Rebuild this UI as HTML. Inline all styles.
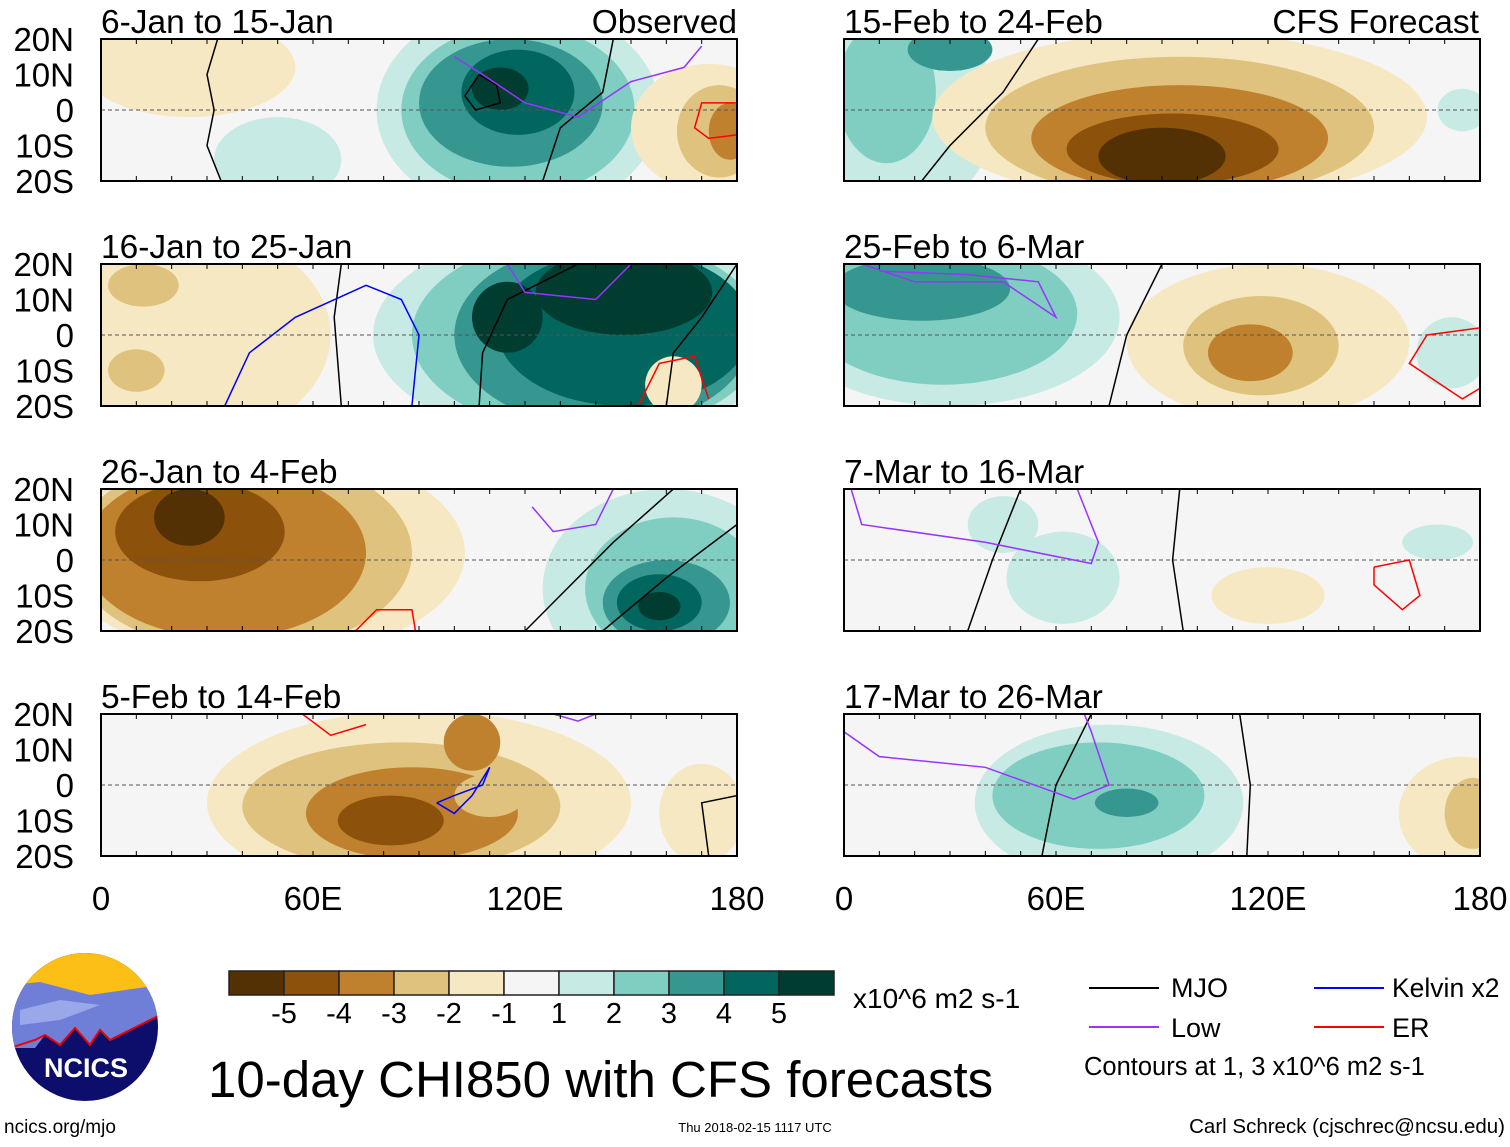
<!DOCTYPE html>
<html><head><meta charset="utf-8"><style>
html,body{margin:0;padding:0;background:#fff}
svg text{font-family:"Liberation Sans",Arial,sans-serif}
</style></head><body>
<svg id="chart" width="1510" height="1142" viewBox="0 0 1510 1142" xmlns="http://www.w3.org/2000/svg">
<g id="panels"></g>
<g id="legend"></g>
</svg>
<script>
// ---- data ----
const levelColors = ["#543005","#8c510a","#bf812d","#dfc27d","#f6e8c3","#f5f5f5","#c7eae5","#80cdc1","#35978f","#01665e","#003c30"];
const levelLabels = ["-5","-4","-3","-2","-1","1","2","3","4","5"];
const panelTitles = ["6-Jan to 15-Jan","16-Jan to 25-Jan","26-Jan to 4-Feb","5-Feb to 14-Feb","15-Feb to 24-Feb","25-Feb to 6-Mar","7-Mar to 16-Mar","17-Mar to 26-Mar"];
const latTicks = [20,10,0,-10,-20];
const latLabels = ["20N","10N","0","10S","20S"];
const lonTicks = [0,60,120,180];
const lonLabels = ["0","60E","120E","180"];
// blobs: [lon, lat, lonRadius, latRadius, level(-5..5)]
const blobs0 = [[25,12,30,14,-1],[50,-14,18,12,1],[118,0,40,30,1],[118,0,33,24,2],[116,2,26,18,3],[118,5,16,12,4],[113,6,8,6,5],[172,-5,22,18,-1],[175,-6,12,13,-2],[178,-6,6,8,-3]];
const blobs1 = [[25,0,40,30,-1],[12,14,10,6,-2],[10,-10,8,6,-2],[135,0,58,30,1],[138,0,50,28,2],[142,0,42,26,3],[148,2,36,22,4],[148,12,25,12,5],[115,5,10,10,5],[162,-14,8,8,-1]];
const blobs2 = [[45,2,58,30,-1],[40,2,48,28,-2],[35,2,40,24,-3],[28,8,24,14,-4],[25,12,10,8,-5],[160,-8,35,28,1],[162,-8,25,20,2],[160,-12,18,12,3],[158,-12,12,8,4],[158,-13,6,4,5]];
const blobs3 = [[90,-5,60,26,-1],[85,-6,45,18,-2],[88,-8,30,13,-3],[82,-10,15,7,-4],[105,12,8,8,-3],[170,-8,12,14,-1],[110,-3,10,6,-2]];
const blobs4 = [[15,0,28,30,1],[12,5,14,20,2],[30,17,12,6,3],[95,-2,70,24,-1],[95,-5,55,20,-2],[95,-8,42,15,-3],[93,-11,30,10,-4],[90,-13,18,8,-5],[175,0,7,6,1]];
const blobs5 = [[30,5,48,25,1],[28,6,38,20,2],[22,13,25,9,3],[120,-2,40,22,-1],[118,-3,22,14,-2],[115,-5,12,8,-3],[172,-5,10,10,1]];
const blobs6 = [[62,-5,16,13,1],[45,10,10,8,1],[120,-10,16,8,-1],[168,5,10,5,1]];
const blobs7 = [[75,-5,38,22,1],[72,-3,30,15,2],[80,-5,9,4,3],[175,-8,18,16,-1],[178,-8,8,10,-2]];
const allBlobs = [blobs0,blobs1,blobs2,blobs3,blobs4,blobs5,blobs6,blobs7];
// contour lines: [color, [[lon,lat],...]]
const lines0 = [["#000",[[33,20],[30,10],[32,0],[30,-10],[34,-20]]],["#000",[[145,20],[142,5],[130,-5],[125,-20]]],["#000",[[107,10],[112,7],[113,2],[106,0],[103,4],[107,10]]],["#9933ff",[[100,15],[108,10],[120,2],[135,-2],[150,8],[165,12],[170,18]]],["#f00",[[180,2],[170,2],[168,-5],[172,-8],[180,-7]]]];
const lines1 = [["#000",[[68,20],[66,5],[68,-20]]],["#00f",[[35,-20],[42,-5],[55,5],[75,14],[85,10],[90,0],[88,-20]]],["#000",[[180,20],[170,5],[162,-5],[160,-20]]],["#000",[[135,20],[115,10],[108,-5],[107,-20]]],["#9933ff",[[115,20],[120,12],[140,10],[150,20]]],["#f00",[[152,-20],[158,-8],[168,-6],[172,-18]]]];
const lines2 = [["#000",[[162,20],[145,5],[130,-10],[120,-20]]],["#000",[[180,10],[160,-5],[142,-20]]],["#9933ff",[[122,15],[128,8],[140,10],[145,20]]],["#f00",[[72,-20],[78,-14],[88,-14],[89,-20]]]];
const lines3 = [["#f00",[[57,20],[65,14],[75,17]]],["#00f",[[95,-5],[100,-3],[108,0],[110,5],[105,-3],[100,-8],[95,-5]]],["#000",[[180,-3],[170,-5],[172,-20]]],["#9933ff",[[128,20],[135,18],[140,20]]]];
const lines4 = [["#000",[[55,20],[45,5],[30,-10],[22,-20]]]];
const lines5 = [["#000",[[90,20],[80,0],[75,-20]]],["#9933ff",[[5,20],[20,15],[45,15],[60,5],[55,15],[35,17],[10,18]]],["#f00",[[180,2],[165,0],[160,-8],[175,-18],[180,-15]]]];
const lines6 = [["#000",[[50,20],[42,0],[35,-20]]],["#000",[[95,20],[93,0],[96,-20]]],["#9933ff",[[2,20],[5,10],[40,5],[70,-1],[72,5],[66,20]]],["#f00",[[150,-2],[160,0],[163,-10],[158,-14],[150,-7],[150,-2]]]];
const lines7 = [["#000",[[70,20],[60,0],[56,-20]]],["#000",[[112,20],[115,0],[114,-20]]],["#9933ff",[[0,15],[10,8],[40,5],[65,-4],[75,0],[70,15],[68,20]]]];
const allLines = [lines0,lines1,lines2,lines3,lines4,lines5,lines6,lines7];

// ---- layout ----
const NS="http://www.w3.org/2000/svg";
const panelsG=document.getElementById('panels');
const legendG=document.getElementById('legend');
const colX=[101,844], rowY=[39,264,489,714], PW=636, PH=142;
function el(tag,attrs,parent){const e=document.createElementNS(NS,tag);for(const k in attrs)e.setAttribute(k,attrs[k]);parent.appendChild(e);return e;}
function colorFor(l){return levelColors[l+5];}

for(let p=0;p<8;p++){
  const x0=colX[p<4?0:1], y0=rowY[p%4];
  const xs=lon=>x0+lon/180*PW, ys=lat=>y0+(20-lat)/40*PH;
  const g=el('g',{},panelsG);
  
  
  const cp=el('clipPath',{id:'clip'+p},g);
  el('rect',{x:x0,y:y0,width:PW,height:PH},cp);
  const inner=el('g',{'clip-path':'url(#clip'+p+')'},g);
  el('rect',{x:x0,y:y0,width:PW,height:PH,fill:'#f5f5f5'},inner);
  allBlobs[p].forEach(b=>{
    const e=el('ellipse',{cx:xs(b[0]),cy:ys(b[1]),rx:b[2]/180*PW,ry:b[3]/40*PH,fill:colorFor(b[4])},inner);
    
    
  });
  el('line',{x1:x0,x2:x0+PW,y1:ys(0),y2:ys(0),stroke:'#555','stroke-dasharray':'4,3','stroke-width':1},inner);
  allLines[p].forEach(ln=>{
    const d=ln[1].map((pt,i)=>(i?'L':'M')+xs(pt[0]).toFixed(1)+','+ys(pt[1]).toFixed(1)).join(' ');
    const pa=el('path',{d:d,fill:'none',stroke:ln[0],'stroke-width':1.5},inner);
    
    
  });
  el('rect',{x:x0,y:y0,width:PW,height:PH,fill:'none',stroke:'#000','stroke-width':2},g);
  for(let lon=0;lon<=180;lon+=10){el('line',{x1:xs(lon),x2:xs(lon),y1:y0,y2:y0+5,stroke:'#000'},g);el('line',{x1:xs(lon),x2:xs(lon),y1:y0+PH,y2:y0+PH-5,stroke:'#000'},g);}
  const t=el('text',{x:x0,y:y0-6,'font-size':33.5},g);t.textContent=panelTitles[p];
  
  
  if(p<4){latTicks.forEach((lt,i)=>{const tt=el('text',{x:74,y:ys(lt)+12,'font-size':33,'text-anchor':'end'},g);tt.textContent=latLabels[i];
    
    });}
  if(p%4===3){lonTicks.forEach((lo,i)=>{const tt=el('text',{x:xs(lo),y:910,'font-size':33,'text-anchor':'middle'},g);tt.textContent=lonLabels[i];
    
    });}
}
[["Observed",737],["CFS Forecast",1479]].forEach(a=>{const t=el('text',{x:a[1],y:33,'font-size':33.5,'text-anchor':'end'},panelsG);t.textContent=a[0];
  
  });

// colorbar
levelColors.forEach((c,i)=>{const r=el('rect',{x:229+i*55,y:971,width:55,height:24,fill:c,stroke:'#222','stroke-width':1.5},legendG);
  
  });
levelLabels.forEach((l,i)=>{const t=el('text',{x:284+i*55,y:1023,'font-size':29,'text-anchor':'middle'},legendG);t.textContent=l;
  
  });
const leg=[["x10^6 m2 s-1",853,1008,28,"start"],["10-day CHI850 with CFS forecasts",208,1097,51,"start"],["ncics.org/mjo",4,1133,19,"start"],["Thu 2018-02-15 1117 UTC",755,1132,13,"middle"],["Carl Schreck (cjschrec@ncsu.edu)",1505,1133,20.5,"end"],["MJO",1171,997,27,"start"],["Kelvin x2",1392,997,26.5,"start"],["Low",1171,1037,27,"start"],["ER",1392,1037,27,"start"],["Contours at 1, 3 x10^6 m2 s-1",1084,1075,25.5,"start"]];
leg.forEach(a=>{const t=el('text',{x:a[1],y:a[2],'font-size':a[3],'text-anchor':a[4]},legendG);t.textContent=a[0];
  
  });
[["#000",1089,988],["#00f",1314,988],["#9933ff",1089,1027],["#f00",1314,1027]].forEach(a=>{const l=el('line',{x1:a[1],x2:a[1]+70,y1:a[2],y2:a[2],stroke:a[0],'stroke-width':2},legendG);
  
  });
// logo
const lg=el('g',{},legendG);


const lcp=el('clipPath',{id:'logoclip'},lg);
el('ellipse',{cx:85,cy:1027,rx:73,ry:74},lcp);
const lc=el('g',{'clip-path':'url(#logoclip)'},lg);
el('rect',{x:10,y:950,width:150,height:155,fill:'#0d0d6b'},lc);
el('rect',{x:10,y:950,width:150,height:50,fill:'#fbbf16'},lc);
el('path',{d:'M10,985 L40,982 L90,995 L160,985 L160,1015 L130,1030 L110,1040 L100,1030 L90,1045 L75,1028 L60,1045 L45,1035 L35,1048 L10,1048Z',fill:'#6f7fd8',stroke:'none'},lc);
el('path',{d:'M10,1048 L35,1040 L45,1035 L60,1045 L75,1028 L90,1045 L100,1030 L110,1040 L130,1030 L160,1015',fill:'none',stroke:'#e00','stroke-width':2},lc);
el('path',{d:'M20,1010 L60,1000 L100,1005 L60,1020 L20,1025Z',fill:'#9aa7e8'},lc);
const nt=el('text',{x:86,y:1077,'font-size':27,'font-weight':'bold',fill:'#fff','text-anchor':'middle'},lg);nt.textContent="NCICS";
</script>
</body></html>
